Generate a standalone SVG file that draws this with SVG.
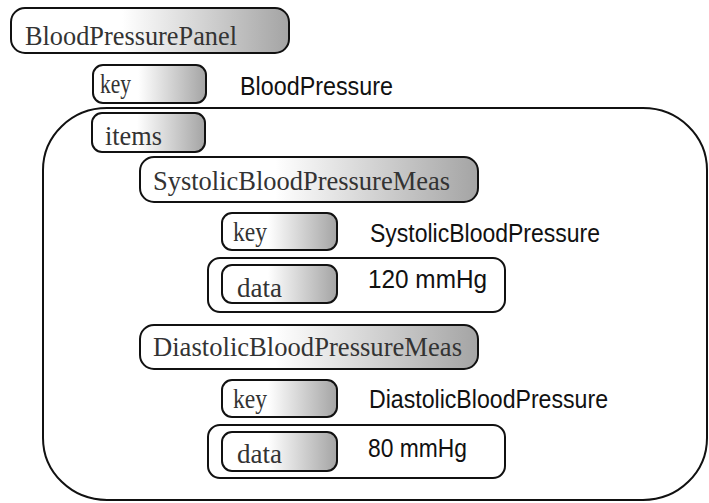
<svg xmlns="http://www.w3.org/2000/svg" width="709" height="503" viewBox="0 0 709 503">
  <defs>
    <linearGradient id="shade" x1="0" y1="0" x2="1" y2="0">
      <stop offset="0" stop-color="#ffffff"/>
      <stop offset="0.4" stop-color="#ffffff"/>
      <stop offset="1" stop-color="#a4a4a4"/>
    </linearGradient>
  </defs>
  <style>
    .box { fill: url(#shade); stroke: #111; stroke-width: 2; }
    .frame { fill: none; stroke: #111; stroke-width: 2; }
    .lbl { font-family: "Liberation Serif", "DejaVu Serif", serif; font-size: 27px; fill: #333; }
    .val { font-family: "Liberation Sans", Arial, sans-serif; font-size: 25px; fill: #111; }
  </style>
  <rect width="709" height="503" fill="#ffffff"/>

  <!-- containers -->
  <g id="containers">
    <rect id="items-frame" class="frame" x="43" y="108" width="664" height="392" rx="64" ry="62"/>
    <rect id="systolic-data-frame" class="frame" x="208" y="258" width="297" height="54" rx="12"/>
    <rect id="diastolic-data-frame" class="frame" x="208" y="425" width="297" height="53" rx="12"/>
  </g>

  <g id="panel">
    <rect class="box" x="11" y="8" width="278" height="45" rx="14"/>
    <text class="lbl" x="25" y="45" textLength="212" lengthAdjust="spacingAndGlyphs">BloodPressurePanel</text>
  </g>

  <g id="panel-key">
    <rect class="box" x="93" y="65" width="113" height="38" rx="10"/>
    <text class="lbl" x="100" y="93" textLength="31" lengthAdjust="spacingAndGlyphs">key</text>
    <text class="val" x="240" y="95" textLength="153" lengthAdjust="spacingAndGlyphs">BloodPressure</text>
  </g>

  <g id="panel-items">
    <rect class="box" x="92" y="113" width="113" height="39" rx="10"/>
    <text class="lbl" x="105" y="145" textLength="57" lengthAdjust="spacingAndGlyphs">items</text>
  </g>

  <g id="systolic">
    <rect class="box" x="140" y="157" width="338" height="45" rx="14"/>
    <text class="lbl" x="153" y="190" textLength="297" lengthAdjust="spacingAndGlyphs">SystolicBloodPressureMeas</text>
  </g>

  <g id="systolic-key">
    <rect class="box" x="222" y="213" width="115" height="37" rx="10"/>
    <text class="lbl" x="233" y="241" textLength="34" lengthAdjust="spacingAndGlyphs">key</text>
    <text class="val" x="370" y="242" textLength="230" lengthAdjust="spacingAndGlyphs">SystolicBloodPressure</text>
  </g>

  <g id="systolic-data">
    <rect class="box" x="222" y="265" width="115" height="38" rx="10"/>
    <text class="lbl" x="237" y="297" textLength="45" lengthAdjust="spacingAndGlyphs">data</text>
    <text class="val" x="368" y="288" textLength="119" lengthAdjust="spacingAndGlyphs">120 mmHg</text>
  </g>

  <g id="diastolic">
    <rect class="box" x="140" y="325" width="338" height="44" rx="14"/>
    <text class="lbl" x="153" y="356" textLength="309" lengthAdjust="spacingAndGlyphs">DiastolicBloodPressureMeas</text>
  </g>

  <g id="diastolic-key">
    <rect class="box" x="222" y="380" width="115" height="37" rx="10"/>
    <text class="lbl" x="233" y="408" textLength="34" lengthAdjust="spacingAndGlyphs">key</text>
    <text class="val" x="369" y="408" textLength="239" lengthAdjust="spacingAndGlyphs">DiastolicBloodPressure</text>
  </g>

  <g id="diastolic-data">
    <rect class="box" x="222" y="432" width="115" height="39" rx="10"/>
    <text class="lbl" x="237" y="463" textLength="45" lengthAdjust="spacingAndGlyphs">data</text>
    <text class="val" x="368" y="457" textLength="99" lengthAdjust="spacingAndGlyphs">80 mmHg</text>
  </g>

  <g id="connectors"></g>
</svg>
